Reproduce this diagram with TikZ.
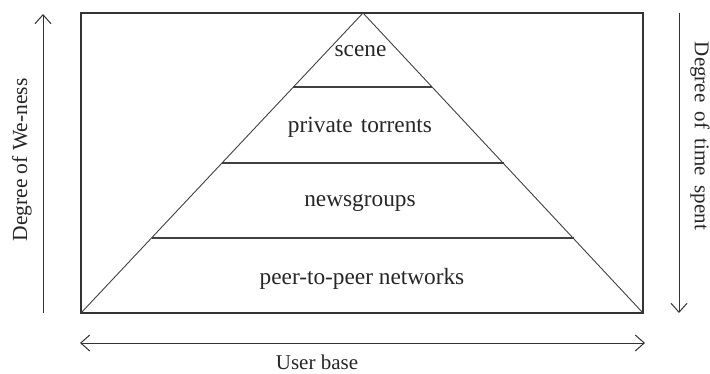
\documentclass[tikz,border=0pt]{standalone}
\usepackage{fontspec}
\setmainfont{Liberation Serif}
\usetikzlibrary{arrows.meta}
\begin{document}
\begin{tikzpicture}[x=1pt,y=-1pt,
  lbl/.style={font=\fontsize{21}{24}\selectfont, text=black!85, inner sep=0pt},
  tierlbl/.style={font=\fontsize{23.3}{26}\selectfont, text=black!85, inner sep=0pt, anchor=base},
  frame/.style={draw=black!80, line width=1.4pt},
  tri/.style={draw=black!75, line width=0.9pt},
  tier/.style={draw=black!75, line width=1.8pt},
  axis/.style={draw=black!80, line width=1pt, -{Straight Barb[length=9pt,width=16pt,line width=1pt]}},
  axis2/.style={draw=black!80, line width=1pt, {Straight Barb[length=9pt,width=16pt,line width=1pt]}-{Straight Barb[length=9pt,width=16pt,line width=1pt]}}]
\useasboundingbox (0,0) rectangle (710,374);
\coordinate (tl) at (81,13);
\coordinate (br) at (643,313);
\coordinate (apex) at (363,13);
\coordinate (bl) at (81,313);
\draw[frame] (tl) rectangle (br);
\draw[tri] (bl) -- (apex) -- (br);
\coordinate (a1) at (293.4,87); \coordinate (b1) at (432.4,87);
\coordinate (a2) at (222,163); \coordinate (b2) at (503.5,163);
\coordinate (a3) at (151.5,238); \coordinate (b3) at (573.5,238);
\draw[tier] (a1) -- (b1);
\draw[tier] (a2) -- (b2);
\draw[tier] (a3) -- (b3);
\node[tierlbl] (scene) at (360.5,57) {scene};
\node[tierlbl] (priv) at (360,133) {private\hspace{0.35em}torrents};
\node[tierlbl] (news) at (360,207) {newsgroups};
\node[tierlbl] (p2p) at (362,284) {peer-to-peer networks};
\coordinate (l0) at (43,313); \coordinate (l1) at (43,14);
\draw[axis] (l0) -- (l1);
\coordinate (r0) at (679,13); \coordinate (r1) at (679,313);
\draw[axis] (r0) -- (r1);
\coordinate (u0) at (80,343); \coordinate (u1) at (645,343);
\draw[axis2] (u0) -- (u1);
\node[lbl, font=\fontsize{21.5}{24}\selectfont, rotate=90] (wen) at (22,160) {Degree of We-ness};
\node[lbl, rotate=-90] (time) at (700,136) {Degree\hspace{0.45em}of\hspace{0.45em}time\hspace{0.45em}spent};
\node[lbl] (user) at (317,362) {User base};
\end{tikzpicture}
\end{document}
